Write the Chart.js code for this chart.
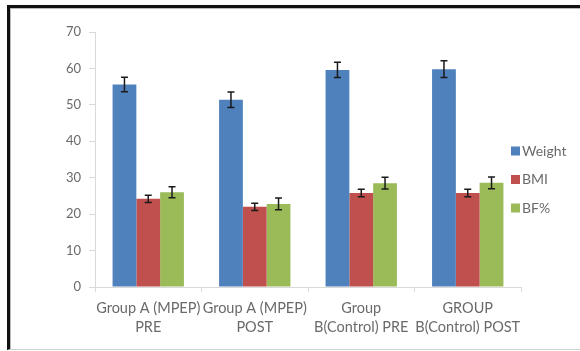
<!DOCTYPE html>
<html>
<head>
<meta charset="utf-8">
<script src="https://cdn.jsdelivr.net/npm/chart.js@4.4.1/dist/chart.umd.min.js"></script>
<style>
  html, body { margin: 0; padding: 0; background: #fff; }
  #wrap { position: relative; width: 580px; height: 351px; overflow: hidden; }
  #frame {
    position: absolute; left: 7px; top: 5px; right: -10px; bottom: 1px;
    border-top: 3px solid #111; border-left: 3px solid #111;
    border-bottom: 1px solid #d0d0d0;
    box-shadow: inset 1px 1px 0 #bbb;
  }
  canvas { position: absolute; left: 0; top: 0; }
</style>
</head>
<body>
<div id="wrap">
  <div id="frame"></div>
  <canvas id="chart" width="580" height="351"></canvas>
</div>
<script>
const categories = [
  ['Group A (MPEP)', 'PRE'],
  ['Group A (MPEP)', 'POST'],
  ['Group', 'B(Control) PRE'],
  ['GROUP', 'B(Control) POST']
];
const seriesNames = ['Weight', 'BMI', 'BF%'];
const seriesColors = ['#4f81bd', '#c0504d', '#9bbb59'];

const weight = [55.6, 51.4, 59.6, 59.8];
const bmi = [24.2, 22.0, 25.8, 25.8];
const bodyFat = [26.0, 22.8, 28.5, 28.6];

const weightErr = [2.0, 2.1, 2.1, 2.3];
const bmiErr = [1.0, 1.0, 1.0, 1.0];
const bodyFatErr = [1.5, 1.6, 1.6, 1.6];

const yTicks = [0, 10, 20, 30, 40, 50, 60, 70];

const labelColor = '#6a6a6a';
const axisColor = '#d9d9d9';
const fontFamily = 'Lato, "Open Sans", sans-serif';

const values = [weight, bmi, bodyFat];
const errors = [weightErr, bmiErr, bodyFatErr];

const errorBars = {
  id: 'errorBars',
  afterDatasetsDraw(chart) {
    const ctx = chart.ctx;
    const y = chart.scales.y;
    ctx.save();
    ctx.strokeStyle = '#1a1a1a';
    ctx.lineWidth = 1.5;
    chart.data.datasets.forEach((ds, i) => {
      const meta = chart.getDatasetMeta(i);
      meta.data.forEach((bar, j) => {
        const err = ds.errors[j];
        const top = y.getPixelForValue(ds.data[j] + err);
        const bottom = y.getPixelForValue(ds.data[j] - err);
        ctx.beginPath();
        ctx.moveTo(bar.x, top);
        ctx.lineTo(bar.x, bottom);
        ctx.moveTo(bar.x - 3.5, top);
        ctx.lineTo(bar.x + 3.5, top);
        ctx.moveTo(bar.x - 3.5, bottom);
        ctx.lineTo(bar.x + 3.5, bottom);
        ctx.stroke();
      });
    });
    ctx.restore();
  }
};

const sideLegend = {
  id: 'sideLegend',
  afterDraw(chart) {
    const ctx = chart.ctx;
    ctx.save();
    ctx.font = '14px ' + fontFamily;
    ctx.textBaseline = 'middle';
    chart.data.datasets.forEach((ds, i) => {
      const cy = 151 + i * 28.5;
      ctx.fillStyle = ds.backgroundColor;
      ctx.fillRect(511, cy - 4.5, 9, 9);
      ctx.fillStyle = labelColor;
      ctx.fillText(ds.label, 522, cy);
    });
    ctx.restore();
  }
};

new Chart(document.getElementById('chart'), {
  type: 'bar',
  data: {
    labels: categories,
    datasets: seriesNames.map((name, i) => ({
      label: name,
      data: values[i],
      errors: errors[i],
      backgroundColor: seriesColors[i],
      categoryPercentage: 0.67,
      barPercentage: 1.0
    }))
  },
  options: {
    responsive: false,
    animation: false,
    layout: { padding: { top: 32, right: 59, bottom: 0, left: 0 } },
    plugins: {
      legend: { display: false },
      tooltip: { enabled: false }
    },
    scales: {
      x: {
        afterFit: s => { s.height = 64; },
        grid: { display: true, drawOnChartArea: false, tickLength: 5, color: axisColor, offset: true },
        border: { color: axisColor },
        ticks: {
          color: labelColor,
          font: { family: fontFamily, size: 14.5, lineHeight: 1.31 },
          padding: 7,
          maxRotation: 0,
          autoSkip: false
        }
      },
      y: {
        min: 0,
        max: 70,
        afterFit: s => { s.width = 95; },
        afterBuildTicks: s => { s.ticks = yTicks.map(v => ({ value: v })); },
        grid: { display: true, drawOnChartArea: false, tickLength: 6, color: axisColor },
        border: { color: axisColor },
        ticks: {
          color: labelColor,
          font: { family: fontFamily, size: 13 },
          padding: 8
        }
      }
    }
  },
  plugins: [errorBars, sideLegend]
});
</script>
</body>
</html>
